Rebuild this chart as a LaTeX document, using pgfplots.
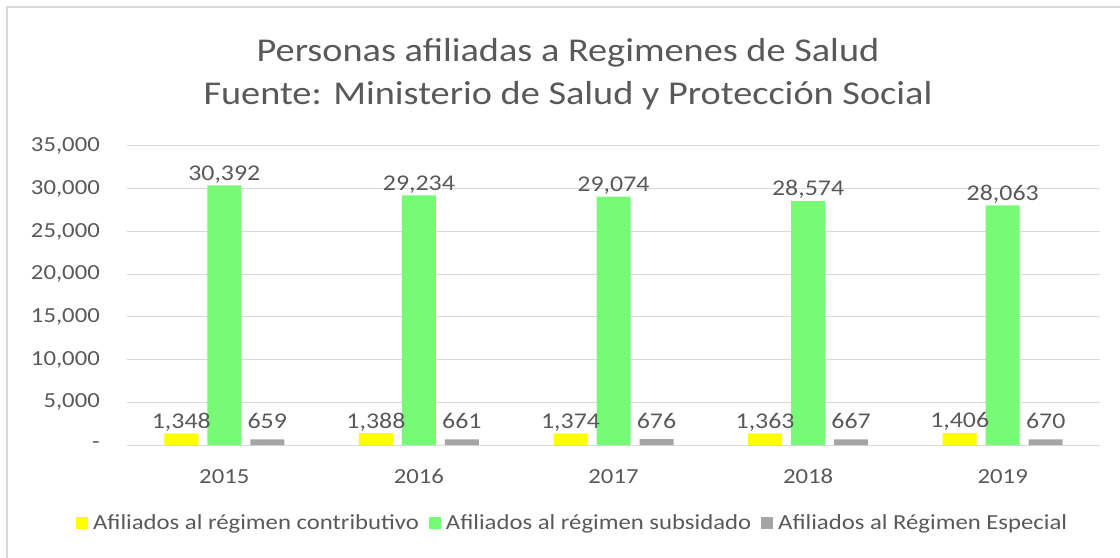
\documentclass[border=0pt]{standalone}
\usepackage{fontspec}
\setmainfont{Carlito}[FakeStretch=1.15]
\usepackage{pgfplots}
\pgfplotsset{compat=1.18}
\definecolor{cYel}{HTML}{FFFF00}
\definecolor{cGrn}{HTML}{77FB77}
\definecolor{cGry}{HTML}{A5A5A5}
\definecolor{cTxt}{HTML}{595959}
\definecolor{cGrid}{HTML}{D9D9D9}

\begin{document}
\begin{tikzpicture}
% fixed page: 1120 x 558, axis box lower-left at pixel (127,445)
\path[use as bounding box] (-127bp,-113bp) rectangle (993bp,445bp);
\draw[cGrid, line width=1.2bp] (-120bp,-120bp) -- (-120bp,438bp) -- (1000bp,438bp);
\begin{axis}[
  at={(0,0)}, anchor=south west,
  scale only axis, width=973bp, height=299bp,
  xmin=-0.5, xmax=4.5, ymin=0, ymax=35000,
  xtick={0,1,2,3,4}, xticklabels={2015,2016,2017,2018,2019},
  ytick={0,5000,10000,15000,20000,25000,30000,35000},
  yticklabels={{-\hspace{16bp}},{5,000},{10,000},{15,000},{20,000},{25,000},{30,000},{35,000}},
  scaled y ticks=false,
  axis line style={draw=none},
  major tick length=0pt,
  ymajorgrids, major grid style={cGrid, line width=1bp},
  tick label style={font=\fontsize{21.5bp}{24bp}\selectfont, text=cTxt},
  yticklabel style={anchor=east, inner sep=0pt, xshift=-27bp},
  xticklabel style={anchor=base, inner sep=0pt, yshift=-38bp},
  /pgf/number format/assume math mode=true,
  /pgf/number format/1000 sep={,},
  ybar=9bp, bar width=34bp,
  nodes near coords,
  nodes near coords style={font=\fontsize{22.5bp}{24bp}\selectfont, text=cTxt, anchor=base, inner sep=0pt},
  legend style={at={(0.458,-0.261)}, anchor=center, draw=none, fill=none,
    legend columns=3, font=\fontsize{21.5bp}{24bp}\selectfont, text=cTxt,
    /tikz/every even column/.append style={column sep=8bp}},
  legend image code/.code={\path[#1] (0bp,-6bp) rectangle (12bp,6bp); \path (15bp,0bp);},
  clip=false,
]
\addplot[fill=cYel, draw=none, every node near coord/.append style={yshift=5bp}] coordinates {
  (0,1348) (1,1388) (2,1374) (3,1363) (4,1406)};
\addplot[fill=cGrn, draw=none, every node near coord/.append style={yshift=5bp}] coordinates {
  (0,30392) (1,29234) (2,29074) (3,28574) (4,28063)};
\addplot[fill=cGry, draw=none, every node near coord/.append style={yshift=11bp}] coordinates {
  (0,659) (1,661) (2,676) (3,667) (4,670)};
\legend{Afiliados al régimen contributivo, Afiliados al régimen subsidado, Afiliados al Régimen Especial}
\end{axis}
\node[anchor=base, text=cTxt, font=\fontsize{33.3bp}{36bp}\selectfont] at (441bp,383bp) {Personas afiliadas a Regimenes de Salud};
\node[anchor=base, text=cTxt, font=\fontsize{33.3bp}{36bp}\selectfont] at (441bp,340bp) {Fuente: Ministerio de Salud y Protección Social};
\end{tikzpicture}
\end{document}
